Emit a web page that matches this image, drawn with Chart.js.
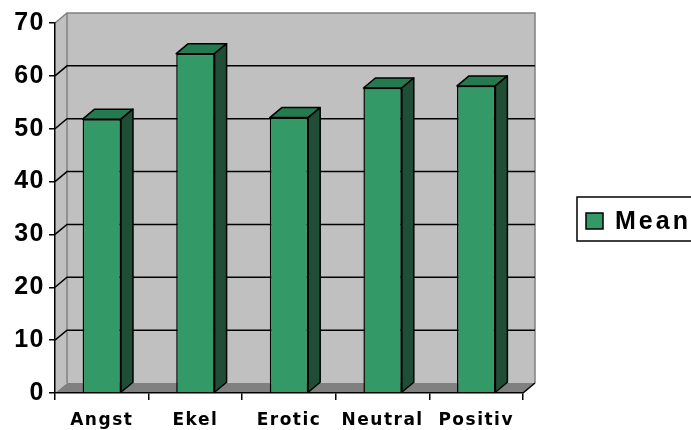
<!DOCTYPE html>
<html>
<head>
<meta charset="utf-8">
<script src="https://cdn.jsdelivr.net/npm/chart.js@4.4.0/dist/chart.umd.min.js"></script>
<style>
  body { margin: 0; background: #fff; }
  canvas { display: block; }
</style>
</head>
<body>
<canvas id="meanChart" width="691" height="430"></canvas>
<script>
const categories = ['Angst', 'Ekel', 'Erotic', 'Neutral', 'Positiv'];
const meanValues = [51.8, 64.2, 52.1, 57.7, 58.1];
const yTicks = [0, 10, 20, 30, 40, 50, 60, 70];

const DX = 12, DY = -10; // depth of the fake 3D box

// walls, floor and gridlines behind everything
const box3d = {
  id: 'box3d',
  beforeDraw(chart) {
    const ctx = chart.ctx;
    const y = chart.scales.y;
    const a = chart.chartArea;
    ctx.letterSpacing = '1.5px';
    ctx.save();
    const top = y.getPixelForValue(70), bot = y.getPixelForValue(0);
    // left wall
    ctx.fillStyle = '#c0c0c0';
    ctx.beginPath();
    ctx.moveTo(a.left, top); ctx.lineTo(a.left + DX, top + DY);
    ctx.lineTo(a.left + DX, bot + DY); ctx.lineTo(a.left, bot);
    ctx.closePath(); ctx.fill();
    // back wall
    ctx.fillRect(a.left + DX, top + DY, a.right - a.left, bot - top);
    ctx.strokeStyle = '#808080';
    ctx.lineWidth = 1.5;
    ctx.beginPath();
    ctx.moveTo(a.left, top); ctx.lineTo(a.left + DX, top + DY);
    ctx.lineTo(a.right + DX, top + DY); ctx.lineTo(a.right + DX, bot + DY);
    ctx.moveTo(a.left + DX, top + DY); ctx.lineTo(a.left + DX, bot + DY);
    ctx.stroke();
    // gridlines
    ctx.strokeStyle = '#000';
    yTicks.forEach(v => {
      if (v === 0 || v === 70) return;
      const p = y.getPixelForValue(v);
      ctx.beginPath();
      ctx.moveTo(a.left, p); ctx.lineTo(a.left + DX, p + DY);
      ctx.lineTo(a.right + DX, p + DY);
      ctx.stroke();
    });
    // floor
    ctx.fillStyle = '#808080';
    ctx.beginPath();
    ctx.moveTo(a.left, bot); ctx.lineTo(a.right, bot);
    ctx.lineTo(a.right + DX, bot + DY); ctx.lineTo(a.left + DX, bot + DY);
    ctx.closePath(); ctx.fill();
    ctx.strokeStyle = '#000';
    ctx.beginPath();
    ctx.moveTo(a.right, bot); ctx.lineTo(a.right + DX, bot + DY);
    ctx.stroke();
    ctx.restore();
  },
  // top and side faces of the columns
  afterDatasetsDraw(chart) {
    const ctx = chart.ctx;
    const meta = chart.getDatasetMeta(0);
    ctx.save();
    ctx.strokeStyle = '#000';
    ctx.lineWidth = 1.5;
    ctx.lineJoin = 'round';
    meta.data.forEach(bar => {
      const p = bar.getProps(['x', 'y', 'base', 'width'], true);
      const l = p.x - p.width / 2, r = p.x + p.width / 2;
      ctx.fillStyle = '#267a50';
      ctx.beginPath();
      ctx.moveTo(l, p.y); ctx.lineTo(r, p.y);
      ctx.lineTo(r + DX, p.y + DY); ctx.lineTo(l + DX, p.y + DY);
      ctx.closePath(); ctx.fill(); ctx.stroke();
      ctx.fillStyle = '#1f4d35';
      ctx.beginPath();
      ctx.moveTo(r, p.y); ctx.lineTo(r + DX, p.y + DY);
      ctx.lineTo(r + DX, p.base + DY); ctx.lineTo(r, p.base);
      ctx.closePath(); ctx.fill(); ctx.stroke();
    });
    ctx.restore();
  },
  // legend with frame
  afterDraw(chart) {
    const ctx = chart.ctx;
    const ds = chart.data.datasets[0];
    ctx.save();
    ctx.lineWidth = 1.5;
    ctx.strokeStyle = '#000';
    ctx.strokeRect(577, 197, 130, 44);
    ctx.fillStyle = ds.backgroundColor;
    ctx.fillRect(586, 213, 17, 16);
    ctx.strokeRect(586, 213, 17, 16);
    ctx.letterSpacing = '3px';
    ctx.fillStyle = '#000';
    ctx.font = 'bold 25px "Liberation Sans", Arial, sans-serif';
    ctx.textBaseline = 'middle';
    ctx.fillText(ds.label, 615, 222);
    ctx.restore();
  }
};

new Chart(document.getElementById('meanChart').getContext('2d'), {
  type: 'bar',
  data: {
    labels: categories,
    datasets: [{
      label: 'Mean',
      data: meanValues,
      backgroundColor: '#339966',
      borderColor: '#000',
      borderWidth: 1.5,
      categoryPercentage: 1,
      barPercentage: 0.41
    }]
  },
  options: {
    responsive: false,
    animation: false,
    layout: { padding: { top: 23, right: 168, left: 0, bottom: 0 } },
    plugins: { legend: { display: false }, tooltip: { enabled: false } },
    scales: {
      y: {
        min: 0,
        max: 70,
        afterFit: s => { s.width = 55; },
        afterBuildTicks: s => { s.ticks = yTicks.map(v => ({ value: v })); },
        grid: { drawOnChartArea: false, color: '#000', lineWidth: 1.5, tickLength: 6 },
        border: { color: '#000', width: 1.5 },
        ticks: {
          color: '#000',
          padding: 4,
          font: { family: '"Liberation Sans", Arial, sans-serif', size: 25, weight: 'bold' }
        }
      },
      x: {
        afterFit: s => { s.height = 37; },
        grid: { drawOnChartArea: false, color: '#000', lineWidth: 1.5, tickLength: 7 },
        border: { color: '#000', width: 1.5 },
        ticks: {
          color: '#000',
          padding: 10,
          maxRotation: 0,
          font: { family: '"DejaVu Sans", sans-serif', size: 17, weight: 'bold' }
        }
      }
    }
  },
  plugins: [box3d]
});
</script>
</body>
</html>
